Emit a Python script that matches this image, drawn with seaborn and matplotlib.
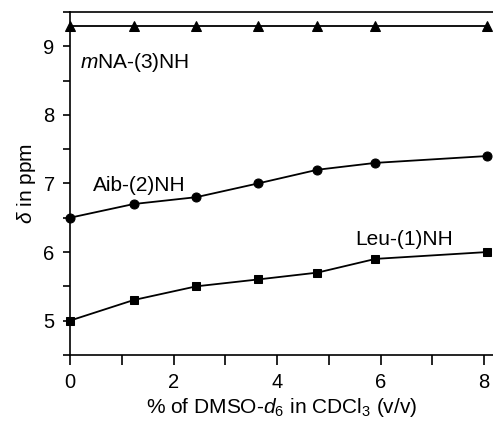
import numpy as np
import pandas as pd
import matplotlib as mpl
mpl.use("Agg")
from matplotlib import pyplot as plt
from matplotlib.ticker import MultipleLocator
import seaborn as sns

# data
dmso = [0, 1.23, 2.44, 3.63, 4.78, 5.90, 8.06]  # % of DMSO-d6 (v/v)
mna_nh = [9.3, 9.3, 9.3, 9.3, 9.3, 9.3, 9.3]
aib_nh = [6.5, 6.7, 6.8, 7.0, 7.2, 7.3, 7.4]
leu_nh = [5.0, 5.3, 5.5, 5.6, 5.7, 5.9, 6.0]

sns.set_style("ticks")
plt.rcParams['font.family'] = ['Liberation Sans', 'DejaVu Sans']
plt.rcParams['mathtext.fontset'] = 'custom'
plt.rcParams['mathtext.rm'] = 'Liberation Sans'
plt.rcParams['mathtext.it'] = 'Liberation Sans:italic'
plt.rcParams['text.color'] = 'black'
plt.rcParams['axes.labelcolor'] = 'black'
plt.rcParams['xtick.color'] = 'black'
plt.rcParams['ytick.color'] = 'black'

fig = plt.figure(figsize=(4.93, 4.21), dpi=100)
ax = fig.add_axes([0.142, 0.157, 0.858, 0.8145])

df = pd.DataFrame({"x": dmso, "mna": mna_nh, "aib": aib_nh, "leu": leu_nh})
for col, mk, ms in [("mna", "^", 6.5), ("aib", "o", 6.5), ("leu", "s", 5.5)]:
    sns.lineplot(data=df, x="x", y=col, ax=ax, color="black", marker=mk,
                 markersize=ms, markeredgecolor="black", linewidth=1.3,
                 clip_on=False, zorder=3)

ax.set_xlim(0, 8.17)
ax.set_ylim(4.5, 9.5)
ax.xaxis.set_major_locator(MultipleLocator(2))
ax.xaxis.set_minor_locator(MultipleLocator(1))
ax.yaxis.set_major_locator(MultipleLocator(1))
ax.yaxis.set_minor_locator(MultipleLocator(0.5))
ax.tick_params(which='major', length=7, width=1.2, labelsize=14.5, pad=6)
ax.tick_params(which='minor', length=7, width=1.2)
ax.tick_params(axis='y', which='both', length=5)

for s in ['left', 'bottom', 'top']:
    ax.spines[s].set_linewidth(1.2)
    ax.spines[s].set_color('black')
ax.spines['top'].set_visible(True)
ax.spines['right'].set_visible(False)

ax.set_xlabel(r"% of DMSO-$\it{d}$$_6$ in CDCl$_3$ (v/v)", fontsize=15, labelpad=3)
ax.set_ylabel(r"$\it{\delta}$ in ppm", fontsize=15, labelpad=4)

ax.text(0.2, 8.77, r"$\it{m}$NA-(3)NH", fontsize=15, ha='left', va='center')
ax.text(0.45, 6.97, "Aib-(2)NH", fontsize=15, ha='left', va='center')
ax.text(5.5, 6.18, "Leu-(1)NH", fontsize=15, ha='left', va='center')

fig.savefig("out.png", dpi=100)
